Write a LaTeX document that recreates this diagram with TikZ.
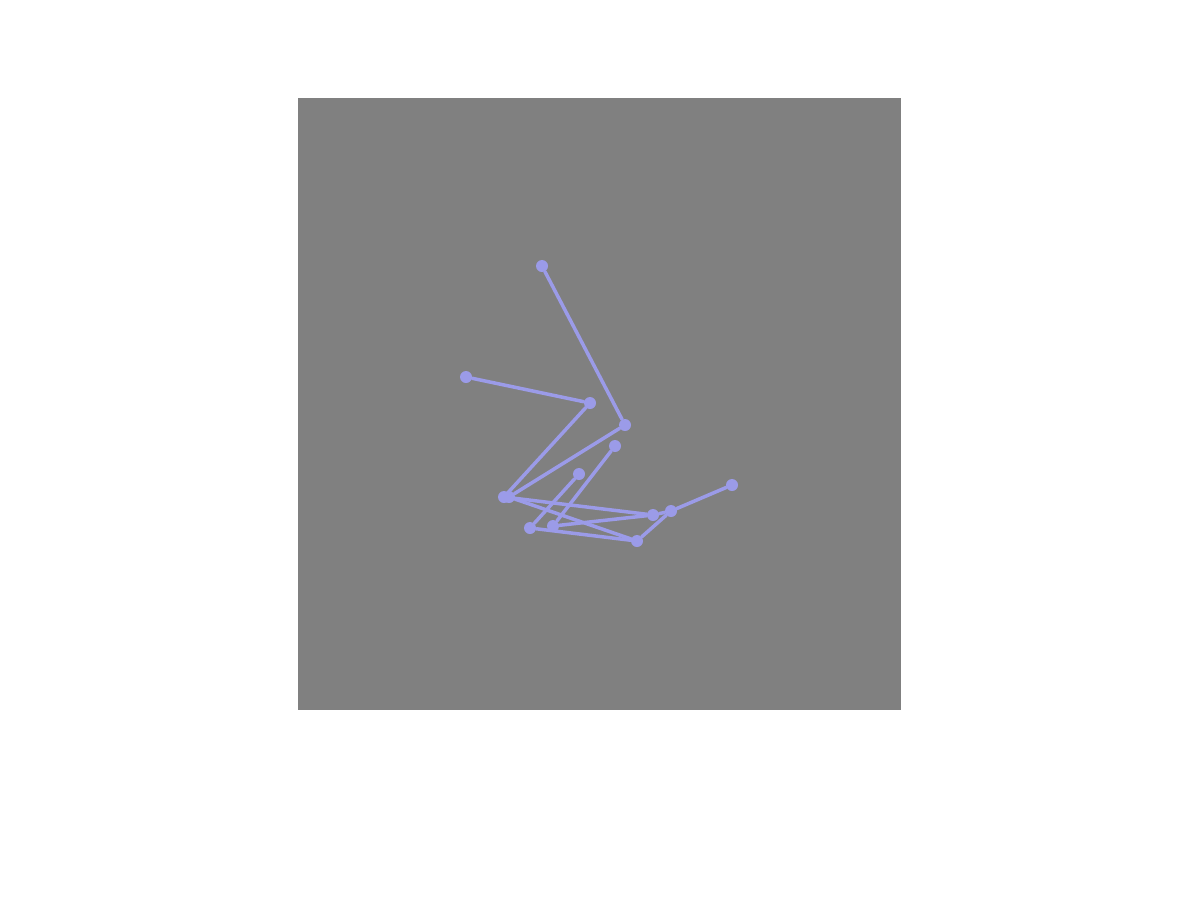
\documentclass[tikz,border=0pt]{standalone}
\usepackage{xcolor}
\usepackage{tikz}
\definecolor{pose-blue}{RGB}{155,155,232}
\definecolor{pose-gray}{RGB}{128,128,128}

\begin{document}
\begin{tikzpicture}[
    x=0.02cm, y=-0.02cm,
    joint/.style={circle, fill=pose-blue, inner sep=0, minimum size=0.24cm},
    bone/.style={pose-blue, line width=0.07cm, line cap=round},
]
    % Canvas and panel
    \useasboundingbox (0, 0) rectangle (1200, 900);
    \fill[pose-gray] (298, 98) rectangle (901, 710);

    % Upper joints
    \node[joint] (top) at (542, 266) {};
    \node[joint] (left) at (466, 377) {};
    \node[joint] (mid) at (590, 403) {};
    \node[joint] (right) at (625, 425) {};
    \node[joint] (tipa) at (615, 446) {};
    \node[joint] (tipb) at (579, 474) {};

    % Lower joints
    \node[joint] (hub) at (504, 497) {};
    \node[joint] (huba) at (509, 497) {};
    \node[joint] (foota) at (530, 528) {};
    \node[joint] (footb) at (553, 526) {};
    \node[joint] (low) at (637, 541) {};
    \node[joint] (knee) at (653, 515) {};
    \node[joint] (hip) at (671, 511) {};
    \node[joint] (end) at (732, 485) {};

    % Bones
    \draw[bone] (top) -- (right);
    \draw[bone] (left) -- (mid);
    \draw[bone] (mid) -- (hub);
    \draw[bone] (right) -- (huba);
    \draw[bone] (tipa) -- (footb);
    \draw[bone] (tipb) -- (foota);
    \draw[bone] (hub) -- (knee);
    \draw[bone] (huba) -- (low);
    \draw[bone] (foota) -- (low);
    \draw[bone] (footb) -- (knee);
    \draw[bone] (low) -- (hip);
    \draw[bone] (knee) -- (hip);
    \draw[bone] (hip) -- (end);

\end{tikzpicture}
\end{document}
